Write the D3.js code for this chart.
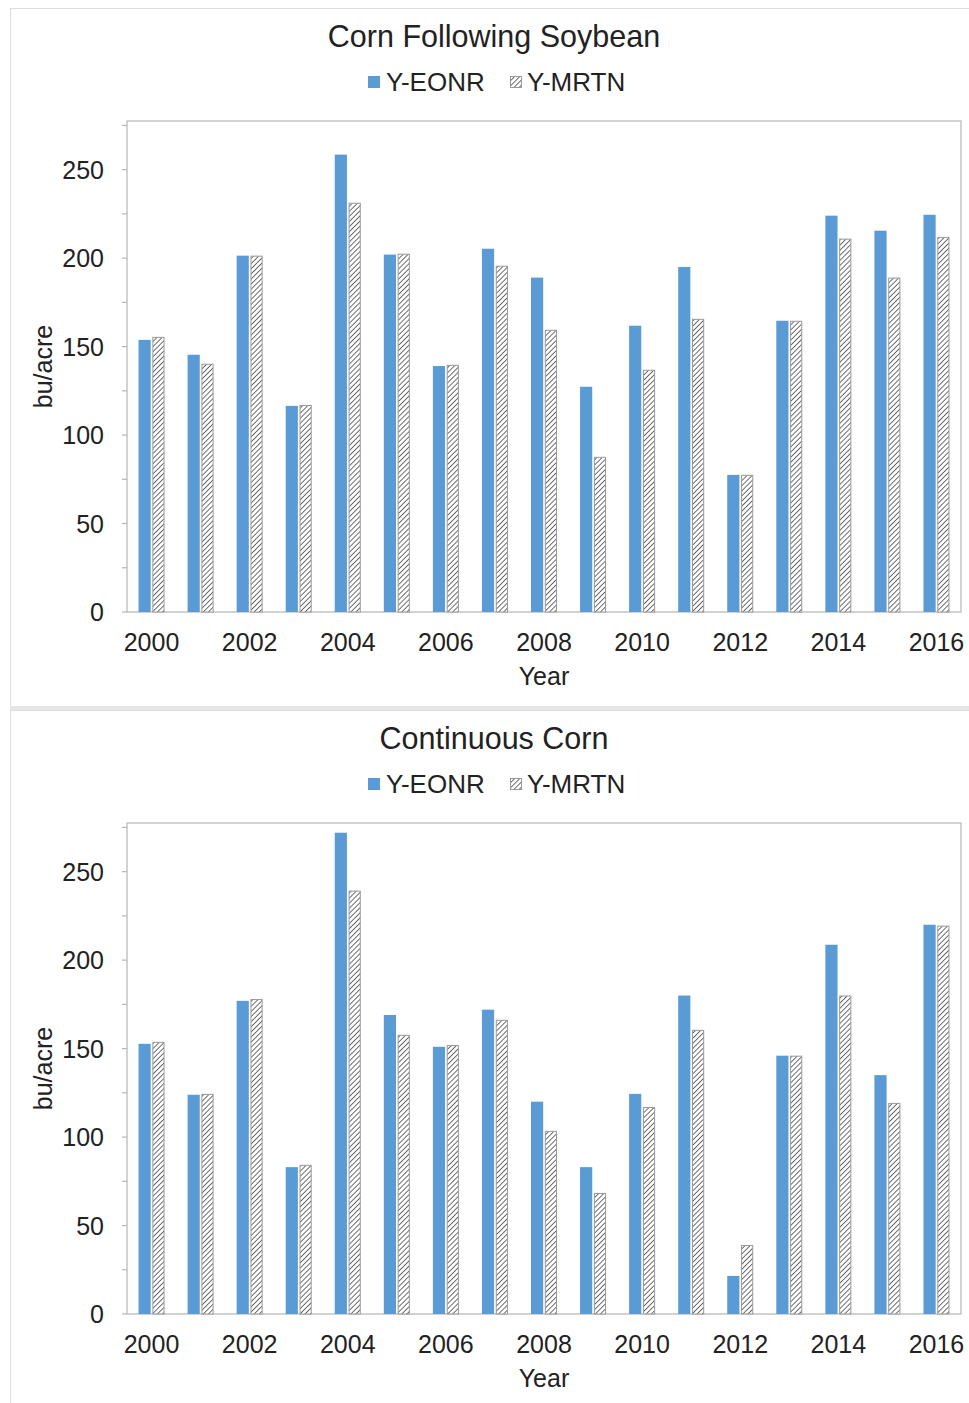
<!DOCTYPE html>
<html><head><meta charset="utf-8">
<script src="https://cdn.jsdelivr.net/npm/d3@7"></script>
<style>
body{margin:0;background:#fff;}
text{font-family:"Liberation Sans",Arial,Helvetica,sans-serif;fill:#222;}
</style></head><body>
<svg id="c" width="969" height="1403"></svg>
<script>
const years = ["2000","2001","2002","2003","2004","2005","2006","2007","2008","2009","2010","2011","2012","2013","2014","2015","2016"];
const xTickLabels = ["2000","2002","2004","2006","2008","2010","2012","2014","2016"];
const yTicks = [0,50,100,150,200,250];
const seriesNames = ["Y-EONR","Y-MRTN"];
const titles = ["Corn Following Soybean","Continuous Corn"];
const eonrCS = [153.8,145.4,201.4,116.5,258.5,202,139,205.3,189,127.3,161.8,195,77.5,164.6,224,215.5,224.5];
const mrtnCS = [155.5,140.3,201.4,117,231.3,202.5,139.7,195.7,159.5,87.7,136.9,165.7,77.5,164.6,211,189,212];
const eonrCC = [152.7,123.9,177,83,272,169,151,172,120,83,124.4,180,21.5,146,208.7,135,220];
const mrtnCC = [153.8,124.4,178,84.3,239.3,157.8,152,166.3,103.5,68.4,117,160.6,39,146,180,119.3,219.5];
const panelsData = [[eonrCS,mrtnCS],[eonrCC,mrtnCC]];

const svg = d3.select("#c");
const defs = svg.append("defs");
const pat = defs.append("pattern").attr("id","hatch").attr("patternUnits","userSpaceOnUse")
  .attr("width",3.6).attr("height",3.6).attr("patternTransform","rotate(45)");
pat.append("rect").attr("width",3.6).attr("height",3.6).attr("fill","#fff");
pat.append("line").attr("x1",0).attr("y1",0).attr("x2",0).attr("y2",3.6).attr("stroke","#4a4a4a").attr("stroke-width",1.6);

const blue = "#5b9bd5";
const L=127, R=961, T=121, B=612;

// panel frames
svg.append("rect").attr("x",10.5).attr("y",8.5).attr("width",970).attr("height",698).attr("fill","none").attr("stroke","#ddd");
svg.append("rect").attr("x",10).attr("y",706).attr("width",960).attr("height",4).attr("fill","#e6e6e6");
svg.append("rect").attr("x",10.5).attr("y",710.5).attr("width",970).attr("height",700).attr("fill","none").attr("stroke","#ddd");

const x0 = d3.scaleBand().domain(years).range([L,R]).paddingInner(0.47).paddingOuter(0.235);
const x1 = d3.scaleBand().domain(seriesNames).range([0,x0.bandwidth()]).paddingInner(0.12);
const xc = d3.scaleBand().domain(years).range([L,R]);

panelsData.forEach((ser,pi)=>{
  const off = pi*702;
  const g = svg.append("g").attr("transform",`translate(0,${off})`);
  const y = d3.scaleLinear().domain([0,277.5]).range([B,T]);

  g.append("rect").attr("x",L).attr("y",T).attr("width",R-L).attr("height",B-T)
    .attr("fill","none").attr("stroke","#b5b5b5").attr("stroke-width",1.2);

  const minor = d3.range(0,276,25);
  g.selectAll(".mt").data(minor).join("line").attr("x1",L-5).attr("x2",L)
    .attr("y1",d=>y(d)).attr("y2",d=>y(d)).attr("stroke","#b5b5b5").attr("stroke-width",1.2);

  g.selectAll(".yl").data(yTicks).join("text").attr("x",L-23).attr("y",d=>y(d)+9)
    .attr("text-anchor","end").attr("font-size",25).text(d=>d);

  g.selectAll(".xl").data(xTickLabels).join("text").attr("x",d=>xc(d)+xc.bandwidth()/2)
    .attr("y",B+39).attr("text-anchor","middle").attr("font-size",25).text(d=>d);

  g.append("text").attr("x",544).attr("y",B+73).attr("text-anchor","middle").attr("font-size",25).text("Year");
  g.append("text").attr("transform",`translate(52,${(T+B)/2})) rotate(-90)`.replace("))",")")).attr("text-anchor","middle")
    .attr("font-size",25).text("bu/acre");

  g.append("text").attr("x",494).attr("y",47).attr("text-anchor","middle").attr("font-size",30.5).text(titles[pi]);

  const lg = g.append("g");
  lg.append("rect").attr("x",368).attr("y",76).attr("width",12).attr("height",12).attr("fill",blue);
  lg.append("text").attr("x",386).attr("y",91).attr("font-size",26).text(seriesNames[0]);
  lg.append("rect").attr("x",510.5).attr("y",76.5).attr("width",11).attr("height",11).attr("fill","url(#hatch)").attr("stroke","#999");
  lg.append("text").attr("x",527).attr("y",91).attr("font-size",26).text(seriesNames[1]);

  ser.forEach((vals,si)=>{
    g.selectAll(".b"+si).data(vals).join("rect")
      .attr("x",(d,i)=>x0(years[i])+x1(seriesNames[si]) + (si===1?0.5:0))
      .attr("y",d=>y(d)+(si===1?0.5:0))
      .attr("width",x1.bandwidth()-(si===1?1:0))
      .attr("height",d=>B-y(d)-(si===1?0.5:0))
      .attr("fill",si===0?blue:"url(#hatch)")
      .attr("stroke",si===0?"none":"#999").attr("stroke-width",1);
  });
});
</script></body></html>
